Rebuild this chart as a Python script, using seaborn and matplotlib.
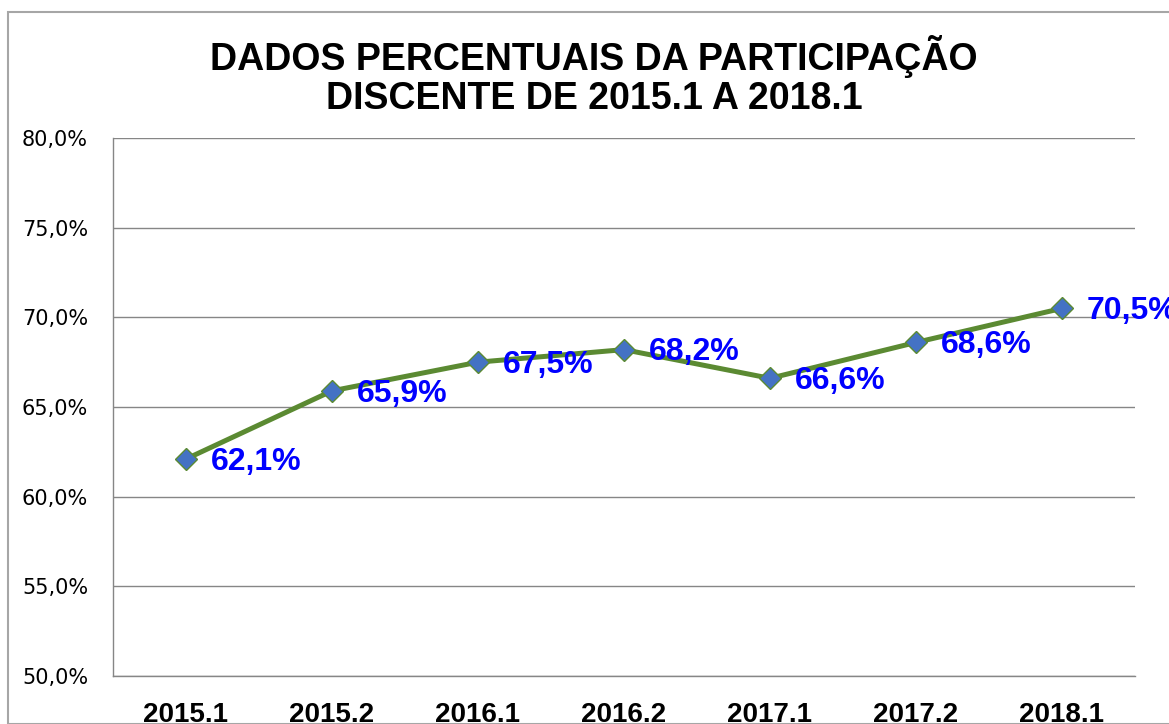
import numpy as np
import pandas as pd
import matplotlib
matplotlib.use('Agg')
import matplotlib.pyplot as plt
import seaborn as sns
from matplotlib.patches import Rectangle
from matplotlib.ticker import FixedLocator, FuncFormatter

# dados
semestres = ['2015.1', '2015.2', '2016.1', '2016.2', '2017.1', '2017.2', '2018.1']
participacao = [62.1, 65.9, 67.5, 68.2, 66.6, 68.6, 70.5]
rotulos = ['62,1%', '65,9%', '67,5%', '68,2%', '66,6%', '68,6%', '70,5%']
yticks = [50, 55, 60, 65, 70, 75, 80]

df = pd.DataFrame({'Semestre': semestres, 'Pct': participacao})
df['x'] = np.arange(len(df))

sns.set_style('white')
plt.rcParams['font.family'] = ['Liberation Sans', 'DejaVu Sans']
plt.rcParams['text.color'] = 'black'
plt.rcParams['xtick.labelcolor'] = 'black'
plt.rcParams['ytick.labelcolor'] = 'black'

fig = plt.figure(figsize=(11.69, 7.24), dpi=100)
ax = fig.add_axes([113 / 1169, 1 - 676 / 724, (1135 - 113) / 1169, (676 - 138) / 724])

# moldura do gráfico
fig.patches.append(Rectangle((8 / 1169, 0), 1.5, 1 - 12 / 724, transform=fig.transFigure,
                             fill=False, edgecolor='#a6a6a6', linewidth=1.5))

sns.lineplot(data=df, x='x', y='Pct', ax=ax, color='#5b8a32', linewidth=3.6,
             marker='D', markersize=11, markerfacecolor='#4472c4',
             markeredgecolor='#5b8a32', markeredgewidth=1, zorder=3)

for xi, yi, txt in zip(df['x'], df['Pct'], rotulos):
    ax.annotate(txt, (xi, yi), xytext=(18, -2), textcoords='offset points',
                ha='left', va='center', color='#0000ff', fontsize=23,
                fontweight='bold', zorder=4, annotation_clip=False)

ax.set_xlim(-0.5, len(semestres) - 0.5)
ax.set_ylim(50, 80)
ax.set_yticks(yticks)
ax.yaxis.set_major_formatter(FuncFormatter(lambda v, p: f'{v:.1f}%'.replace('.', ',')))
ax.set_xticks(df['x'])
ax.set_xticklabels(semestres, fontsize=20, fontweight='bold', color='black')
ax.xaxis.set_minor_locator(FixedLocator(np.arange(-0.5, len(semestres), 1)))
ax.tick_params(axis='x', which='major', length=0, pad=19)
ax.tick_params(axis='x', which='minor', length=7, width=1, color='#868686', direction='out')
ax.tick_params(axis='y', length=7, width=1, color='#868686', direction='out', pad=11)
for lbl in ax.get_yticklabels():
    lbl.set_family(['DejaVu Sans'])
    lbl.set_fontsize(15)
    lbl.set_color('black')

ax.grid(axis='y', color='#868686', linewidth=1)
ax.set_axisbelow(True)
for s in ['top', 'right']:
    ax.spines[s].set_visible(False)
for s in ['left', 'bottom']:
    ax.spines[s].set_color('#868686')
    ax.spines[s].set_linewidth(1)
ax.set_xlabel('')
ax.set_ylabel('')

fig.text(594 / 1169, 1 - 76 / 724, 'DADOS PERCENTUAIS DA PARTICIPAÇÃO\nDISCENTE DE 2015.1 A 2018.1',
         ha='center', va='center', fontsize=27, fontweight='bold', linespacing=1.1,
         color='black')

fig.savefig('out.png', dpi=100)
